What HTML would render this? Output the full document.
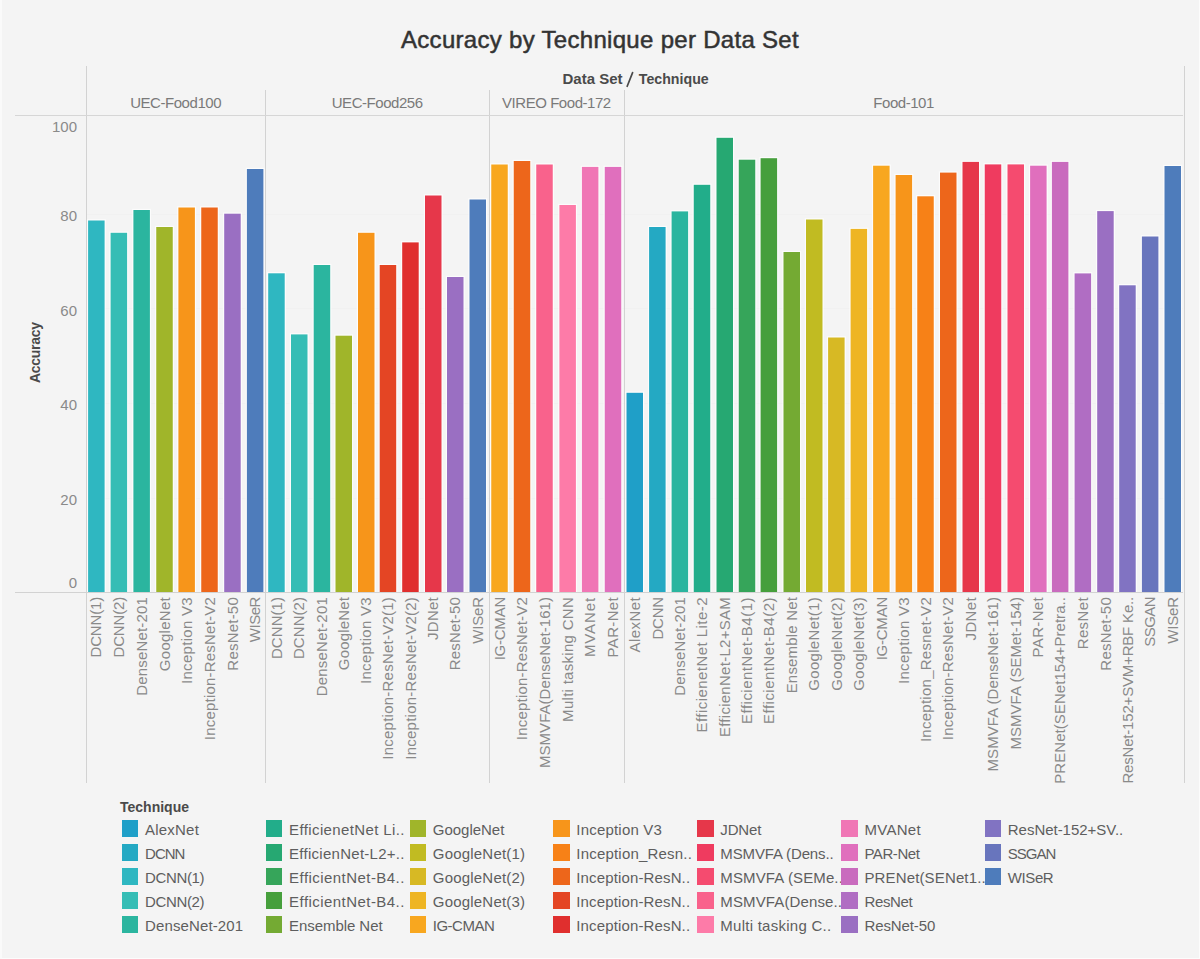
<!DOCTYPE html>
<html><head><meta charset="utf-8"><style>
html,body{margin:0;padding:0;}
body{width:1200px;height:959px;background:#f4f4f4;position:relative;overflow:hidden;font-family:"Liberation Sans",sans-serif;}
.frame{position:absolute;left:0;top:0;width:1200px;height:959px;box-sizing:border-box;border-left:2px solid #fafafa;border-right:1px solid #fcfcfc;border-bottom:1px solid #fcfcfc;}
svg{position:absolute;left:0;top:0;}
.title{position:absolute;left:0;width:1200px;top:26px;text-align:center;font-size:24px;color:#333;line-height:28px;-webkit-text-stroke:0.5px #333;letter-spacing:0.3px;white-space:nowrap;}
.dst2{position:absolute;top:70px;font-weight:bold;color:#4a4a4a;line-height:17px;white-space:nowrap;}
.dst{position:absolute;left:485px;width:300px;top:70px;text-align:center;font-size:15px;font-weight:bold;color:#4a4a4a;line-height:17px;white-space:pre;letter-spacing:-0.1px}
.hd{position:absolute;top:94px;width:300px;text-align:center;font-size:15px;color:#7a7a7a;line-height:17px;letter-spacing:-0.45px;white-space:nowrap;}
.yl{position:absolute;left:0;width:77px;text-align:right;font-size:15px;color:#8a8a8a;line-height:17px;}
.xl{position:absolute;top:597px;width:200px;height:17px;font-size:15px;line-height:17px;color:#8a8a8a;white-space:nowrap;text-align:right;transform-origin:0 0;transform:translateX(0) rotate(-90deg) translateX(-200px);letter-spacing:0.05px;}
.ytitle{position:absolute;left:5px;top:345px;width:60px;height:16px;font-size:14px;letter-spacing:-0.3px;font-weight:bold;color:#4a4a4a;line-height:16px;transform-origin:30px 8px;transform:rotate(-90deg);text-align:center;}
.lgt{position:absolute;left:120px;top:799px;font-size:14px;font-weight:bold;color:#4a4a4a;line-height:16px;}
.sw{position:absolute;width:16.5px;height:16.5px;}
.lt{position:absolute;font-size:15px;line-height:19px;color:#5e5e5e;white-space:nowrap;}
#wrap{position:absolute;left:0;top:0;width:1200px;height:959px;}
</style></head><body><div id="wrap">
<svg width="1200" height="959" viewBox="0 0 1200 959">
<line x1="86" y1="498.5" x2="1183" y2="498.5" stroke="#f1f1f1" stroke-width="1"/>
<line x1="86" y1="403.5" x2="1183" y2="403.5" stroke="#f1f1f1" stroke-width="1"/>
<line x1="86" y1="308.5" x2="1183" y2="308.5" stroke="#f1f1f1" stroke-width="1"/>
<line x1="86" y1="214.5" x2="1183" y2="214.5" stroke="#f1f1f1" stroke-width="1"/>
<rect x="86.90" y="219.30" width="18.90" height="372.70" fill="#ffffff" opacity="0.75"/>
<rect x="88.10" y="220.50" width="16.5" height="371.50" fill="#2fb7c1"/>
<rect x="109.40" y="231.60" width="18.90" height="360.40" fill="#ffffff" opacity="0.75"/>
<rect x="110.60" y="232.80" width="16.5" height="359.20" fill="#35bdb5"/>
<rect x="132.20" y="208.80" width="18.90" height="383.20" fill="#ffffff" opacity="0.75"/>
<rect x="133.40" y="210.00" width="16.5" height="382.00" fill="#2bb59f"/>
<rect x="155.05" y="225.80" width="18.90" height="366.20" fill="#ffffff" opacity="0.75"/>
<rect x="156.25" y="227.00" width="16.5" height="365.00" fill="#a0b52a"/>
<rect x="177.20" y="206.30" width="18.90" height="385.70" fill="#ffffff" opacity="0.75"/>
<rect x="178.40" y="207.50" width="16.5" height="384.50" fill="#f7951a"/>
<rect x="200.05" y="206.30" width="18.90" height="385.70" fill="#ffffff" opacity="0.75"/>
<rect x="201.25" y="207.50" width="16.5" height="384.50" fill="#ed661b"/>
<rect x="223.00" y="212.50" width="18.90" height="379.50" fill="#ffffff" opacity="0.75"/>
<rect x="224.20" y="213.70" width="16.5" height="378.30" fill="#9a6fc2"/>
<rect x="245.70" y="167.80" width="18.90" height="424.20" fill="#ffffff" opacity="0.75"/>
<rect x="246.90" y="169.00" width="16.5" height="423.00" fill="#4e7cbb"/>
<rect x="267.00" y="272.10" width="18.90" height="319.90" fill="#ffffff" opacity="0.75"/>
<rect x="268.20" y="273.30" width="16.5" height="318.70" fill="#2fb7c1"/>
<rect x="289.80" y="333.20" width="18.90" height="258.80" fill="#ffffff" opacity="0.75"/>
<rect x="291.00" y="334.40" width="16.5" height="257.60" fill="#35bdb5"/>
<rect x="312.50" y="263.80" width="18.90" height="328.20" fill="#ffffff" opacity="0.75"/>
<rect x="313.70" y="265.00" width="16.5" height="327.00" fill="#2bb59f"/>
<rect x="334.30" y="334.50" width="18.90" height="257.50" fill="#ffffff" opacity="0.75"/>
<rect x="335.50" y="335.70" width="16.5" height="256.30" fill="#a0b52a"/>
<rect x="356.80" y="231.60" width="18.90" height="360.40" fill="#ffffff" opacity="0.75"/>
<rect x="358.00" y="232.80" width="16.5" height="359.20" fill="#f7951a"/>
<rect x="378.50" y="263.80" width="18.90" height="328.20" fill="#ffffff" opacity="0.75"/>
<rect x="379.70" y="265.00" width="16.5" height="327.00" fill="#e44524"/>
<rect x="401.00" y="241.20" width="18.90" height="350.80" fill="#ffffff" opacity="0.75"/>
<rect x="402.20" y="242.40" width="16.5" height="349.60" fill="#e02f2e"/>
<rect x="423.80" y="194.30" width="18.90" height="397.70" fill="#ffffff" opacity="0.75"/>
<rect x="425.00" y="195.50" width="16.5" height="396.50" fill="#e6374a"/>
<rect x="445.80" y="275.80" width="18.90" height="316.20" fill="#ffffff" opacity="0.75"/>
<rect x="447.00" y="277.00" width="16.5" height="315.00" fill="#9a6fc2"/>
<rect x="468.30" y="198.30" width="18.90" height="393.70" fill="#ffffff" opacity="0.75"/>
<rect x="469.50" y="199.50" width="16.5" height="392.50" fill="#4e7cbb"/>
<rect x="490.05" y="163.30" width="18.90" height="428.70" fill="#ffffff" opacity="0.75"/>
<rect x="491.25" y="164.50" width="16.5" height="427.50" fill="#f8a71f"/>
<rect x="512.55" y="159.80" width="18.90" height="432.20" fill="#ffffff" opacity="0.75"/>
<rect x="513.75" y="161.00" width="16.5" height="431.00" fill="#ed661b"/>
<rect x="535.05" y="163.30" width="18.90" height="428.70" fill="#ffffff" opacity="0.75"/>
<rect x="536.25" y="164.50" width="16.5" height="427.50" fill="#f9628c"/>
<rect x="558.20" y="203.80" width="18.90" height="388.20" fill="#ffffff" opacity="0.75"/>
<rect x="559.40" y="205.00" width="16.5" height="387.00" fill="#fd7ba8"/>
<rect x="580.70" y="165.70" width="18.90" height="426.30" fill="#ffffff" opacity="0.75"/>
<rect x="581.90" y="166.90" width="16.5" height="425.10" fill="#f076b5"/>
<rect x="603.55" y="165.70" width="18.90" height="426.30" fill="#ffffff" opacity="0.75"/>
<rect x="604.75" y="166.90" width="16.5" height="425.10" fill="#e06fbd"/>
<rect x="625.30" y="391.60" width="18.90" height="200.40" fill="#ffffff" opacity="0.75"/>
<rect x="626.50" y="392.80" width="16.5" height="199.20" fill="#1f9fc8"/>
<rect x="647.90" y="225.80" width="18.90" height="366.20" fill="#ffffff" opacity="0.75"/>
<rect x="649.10" y="227.00" width="16.5" height="365.00" fill="#24a9c3"/>
<rect x="670.40" y="210.20" width="18.90" height="381.80" fill="#ffffff" opacity="0.75"/>
<rect x="671.60" y="211.40" width="16.5" height="380.60" fill="#2bb59f"/>
<rect x="692.55" y="183.60" width="18.90" height="408.40" fill="#ffffff" opacity="0.75"/>
<rect x="693.75" y="184.80" width="16.5" height="407.20" fill="#22ad8a"/>
<rect x="715.30" y="136.60" width="18.90" height="455.40" fill="#ffffff" opacity="0.75"/>
<rect x="716.50" y="137.80" width="16.5" height="454.20" fill="#26a872"/>
<rect x="737.55" y="158.50" width="18.90" height="433.50" fill="#ffffff" opacity="0.75"/>
<rect x="738.75" y="159.70" width="16.5" height="432.30" fill="#36a55a"/>
<rect x="759.40" y="157.00" width="18.90" height="435.00" fill="#ffffff" opacity="0.75"/>
<rect x="760.60" y="158.20" width="16.5" height="433.80" fill="#469f3c"/>
<rect x="782.30" y="250.80" width="18.90" height="341.20" fill="#ffffff" opacity="0.75"/>
<rect x="783.50" y="252.00" width="16.5" height="340.00" fill="#74aa33"/>
<rect x="804.80" y="218.30" width="18.90" height="373.70" fill="#ffffff" opacity="0.75"/>
<rect x="806.00" y="219.50" width="16.5" height="372.50" fill="#c1bb22"/>
<rect x="826.90" y="336.30" width="18.90" height="255.70" fill="#ffffff" opacity="0.75"/>
<rect x="828.10" y="337.50" width="16.5" height="254.50" fill="#d7b924"/>
<rect x="849.40" y="227.70" width="18.90" height="364.30" fill="#ffffff" opacity="0.75"/>
<rect x="850.60" y="228.90" width="16.5" height="363.10" fill="#eeb523"/>
<rect x="871.90" y="164.50" width="18.90" height="427.50" fill="#ffffff" opacity="0.75"/>
<rect x="873.10" y="165.70" width="16.5" height="426.30" fill="#f8a71f"/>
<rect x="894.40" y="173.80" width="18.90" height="418.20" fill="#ffffff" opacity="0.75"/>
<rect x="895.60" y="175.00" width="16.5" height="417.00" fill="#f7951a"/>
<rect x="916.05" y="195.10" width="18.90" height="396.90" fill="#ffffff" opacity="0.75"/>
<rect x="917.25" y="196.30" width="16.5" height="395.70" fill="#f78117"/>
<rect x="938.80" y="171.40" width="18.90" height="420.60" fill="#ffffff" opacity="0.75"/>
<rect x="940.00" y="172.60" width="16.5" height="419.40" fill="#ed661b"/>
<rect x="961.30" y="160.70" width="18.90" height="431.30" fill="#ffffff" opacity="0.75"/>
<rect x="962.50" y="161.90" width="16.5" height="430.10" fill="#e6374a"/>
<rect x="983.55" y="163.20" width="18.90" height="428.80" fill="#ffffff" opacity="0.75"/>
<rect x="984.75" y="164.40" width="16.5" height="427.60" fill="#ef3b5f"/>
<rect x="1006.30" y="163.20" width="18.90" height="428.80" fill="#ffffff" opacity="0.75"/>
<rect x="1007.50" y="164.40" width="16.5" height="427.60" fill="#f54b6f"/>
<rect x="1028.90" y="164.50" width="18.90" height="427.50" fill="#ffffff" opacity="0.75"/>
<rect x="1030.10" y="165.70" width="16.5" height="426.30" fill="#e06fbd"/>
<rect x="1050.70" y="160.70" width="18.90" height="431.30" fill="#ffffff" opacity="0.75"/>
<rect x="1051.90" y="161.90" width="16.5" height="430.10" fill="#c96bbe"/>
<rect x="1073.40" y="272.20" width="18.90" height="319.80" fill="#ffffff" opacity="0.75"/>
<rect x="1074.60" y="273.40" width="16.5" height="318.60" fill="#b06dc3"/>
<rect x="1096.00" y="209.90" width="18.90" height="382.10" fill="#ffffff" opacity="0.75"/>
<rect x="1097.20" y="211.10" width="16.5" height="380.90" fill="#9a6fc2"/>
<rect x="1118.00" y="284.10" width="18.90" height="307.90" fill="#ffffff" opacity="0.75"/>
<rect x="1119.20" y="285.30" width="16.5" height="306.70" fill="#8173c2"/>
<rect x="1140.70" y="235.30" width="18.90" height="356.70" fill="#ffffff" opacity="0.75"/>
<rect x="1141.90" y="236.50" width="16.5" height="355.50" fill="#6875bd"/>
<rect x="1163.30" y="164.80" width="18.90" height="427.20" fill="#ffffff" opacity="0.75"/>
<rect x="1164.50" y="166.00" width="16.5" height="426.00" fill="#4e7cbb"/>
<line x1="86.5" y1="66" x2="86.5" y2="783" stroke="#d2d2d2" stroke-width="1"/>
<line x1="265.5" y1="90" x2="265.5" y2="783" stroke="#d2d2d2" stroke-width="1"/>
<line x1="489.5" y1="90" x2="489.5" y2="783" stroke="#d2d2d2" stroke-width="1"/>
<line x1="624.5" y1="90" x2="624.5" y2="783" stroke="#d2d2d2" stroke-width="1"/>
<line x1="1184.5" y1="66" x2="1184.5" y2="783" stroke="#d2d2d2" stroke-width="1"/>
<line x1="627.2" y1="86.3" x2="632.6" y2="72.6" stroke="#4a4a4a" stroke-width="1.7" stroke-linecap="round"/>
<line x1="15" y1="115.5" x2="1183" y2="115.5" stroke="#d6d6d6" stroke-width="1.2"/>
<line x1="15" y1="592.5" x2="1183" y2="592.5" stroke="#d2d2d2" stroke-width="1.2"/>
</svg>
<div class="title">Accuracy by Technique per Data Set</div>
<div class="dst2" style="left:562.5px;font-size:15px">Data Set</div><div class="dst2" style="left:638.8px;font-size:14.2px;top:71px">Technique</div>
<div class="ytitle">Accuracy</div>
<div class="yl" style="top:118.0px">100</div>
<div class="yl" style="top:207.0px">80</div>
<div class="yl" style="top:301.5px">60</div>
<div class="yl" style="top:396.2px">40</div>
<div class="yl" style="top:491.0px">20</div>
<div class="yl" style="top:574.2px">0</div>
<div class="hd" style="left:25.6px">UEC-Food100</div>
<div class="hd" style="left:227.2px">UEC-Food256</div>
<div class="hd" style="left:406.4px">VIREO Food-172</div>
<div class="hd" style="left:753.6px">Food-101</div>
<div class="xl" style="left:87.4px;letter-spacing:-0.164px">DCNN(1)</div>
<div class="xl" style="left:109.9px;letter-spacing:-0.164px">DCNN(2)</div>
<div class="xl" style="left:132.8px;letter-spacing:0.175px">DenseNet-201</div>
<div class="xl" style="left:155.6px;letter-spacing:0.272px">GoogleNet</div>
<div class="xl" style="left:177.8px;letter-spacing:0.300px">Inception V3</div>
<div class="xl" style="left:200.6px;letter-spacing:0.208px">Inception-ResNet-V2</div>
<div class="xl" style="left:223.5px;letter-spacing:0.217px">ResNet-50</div>
<div class="xl" style="left:246.2px;letter-spacing:-0.450px">WISeR</div>
<div class="xl" style="left:267.6px;letter-spacing:0.050px">DCNN(1)</div>
<div class="xl" style="left:290.4px;letter-spacing:0.050px">DCNN(2)</div>
<div class="xl" style="left:313.1px;letter-spacing:0.217px">DenseNet-201</div>
<div class="xl" style="left:334.9px;letter-spacing:0.161px">GoogleNet</div>
<div class="xl" style="left:357.4px;letter-spacing:0.300px">Inception V3</div>
<div class="xl" style="left:379.1px;letter-spacing:0.232px">Inception-ResNet-V2(1)</div>
<div class="xl" style="left:401.6px;letter-spacing:0.232px">Inception-ResNet-V2(2)</div>
<div class="xl" style="left:424.4px;letter-spacing:0.250px">JDNet</div>
<div class="xl" style="left:446.4px;letter-spacing:0.161px">ResNet-50</div>
<div class="xl" style="left:468.9px;letter-spacing:-0.150px">WISeR</div>
<div class="xl" style="left:490.6px;letter-spacing:-0.236px">IG-CMAN</div>
<div class="xl" style="left:513.1px;letter-spacing:0.208px">Inception-ResNet-V2</div>
<div class="xl" style="left:535.6px;letter-spacing:0.050px">MSMVFA(DenseNet-161)</div>
<div class="xl" style="left:558.8px;letter-spacing:0.285px">Multi tasking CNN</div>
<div class="xl" style="left:581.2px;letter-spacing:0.883px">MVANet</div>
<div class="xl" style="left:604.1px;letter-spacing:0.336px">PAR-Net</div>
<div class="xl" style="left:625.9px;letter-spacing:0.407px">AlexNet</div>
<div class="xl" style="left:648.5px;letter-spacing:-0.200px">DCNN</div>
<div class="xl" style="left:671.0px;letter-spacing:0.175px">DenseNet-201</div>
<div class="xl" style="left:693.1px;letter-spacing:0.450px">EfficienetNet Lite-2</div>
<div class="xl" style="left:715.9px;letter-spacing:0.272px">EfficienNet-L2+SAM</div>
<div class="xl" style="left:738.1px;letter-spacing:0.494px">EfficientNet-B4(1)</div>
<div class="xl" style="left:760.0px;letter-spacing:0.494px">EfficientNet-B4(2)</div>
<div class="xl" style="left:782.9px;letter-spacing:0.175px">Ensemble Net</div>
<div class="xl" style="left:805.4px;letter-spacing:0.300px">GoogleNet(1)</div>
<div class="xl" style="left:827.5px;letter-spacing:0.300px">GoogleNet(2)</div>
<div class="xl" style="left:850.0px;letter-spacing:0.300px">GoogleNet(3)</div>
<div class="xl" style="left:872.5px;letter-spacing:-0.236px">IG-CMAN</div>
<div class="xl" style="left:895.0px;letter-spacing:0.300px">Inception V3</div>
<div class="xl" style="left:916.6px;letter-spacing:0.261px">Inception_Resnet-V2</div>
<div class="xl" style="left:939.4px;letter-spacing:0.208px">Inception-ResNet-V2</div>
<div class="xl" style="left:961.9px;letter-spacing:0.350px">JDNet</div>
<div class="xl" style="left:984.1px;letter-spacing:0.050px">MSMVFA (DenseNet-161)</div>
<div class="xl" style="left:1006.9px;letter-spacing:0.050px">MSMVFA (SEMet-154)</div>
<div class="xl" style="left:1029.4px;letter-spacing:0.336px">PAR-Net</div>
<div class="xl" style="left:1051.2px;letter-spacing:0.050px">PRENet(SENet154+Pretra..</div>
<div class="xl" style="left:1073.9px;letter-spacing:0.383px">ResNet</div>
<div class="xl" style="left:1096.5px;letter-spacing:0.217px">ResNet-50</div>
<div class="xl" style="left:1118.5px;letter-spacing:-0.189px">ResNet-152+SVM+RBF Ke..</div>
<div class="xl" style="left:1141.2px;letter-spacing:-0.550px">SSGAN</div>
<div class="xl" style="left:1163.8px;letter-spacing:-0.150px">WISeR</div>
<div class="lgt">Technique</div>
<div class="sw" style="left:121.8px;top:820.0px;background:#1f9fc8"></div>
<div class="lt" style="left:145.1px;top:819.5px;letter-spacing:0.200px">AlexNet</div>
<div class="sw" style="left:121.8px;top:844.2px;background:#24a9c3"></div>
<div class="lt" style="left:145.1px;top:843.8px;letter-spacing:-1.050px">DCNN</div>
<div class="sw" style="left:121.8px;top:868.0px;background:#2fb7c1"></div>
<div class="lt" style="left:145.1px;top:867.5px;letter-spacing:-0.371px">DCNN(1)</div>
<div class="sw" style="left:121.8px;top:892.0px;background:#35bdb5"></div>
<div class="lt" style="left:145.1px;top:891.5px;letter-spacing:-0.371px">DCNN(2)</div>
<div class="sw" style="left:121.8px;top:916.2px;background:#2bb59f"></div>
<div class="lt" style="left:145.1px;top:915.8px;letter-spacing:0.117px">DenseNet-201</div>
<div class="sw" style="left:265.8px;top:820.0px;background:#22ad8a"></div>
<div class="lt" style="left:289.1px;top:819.5px;letter-spacing:0.378px">EfficienetNet Li..</div>
<div class="sw" style="left:265.8px;top:844.2px;background:#26a872"></div>
<div class="lt" style="left:289.1px;top:843.8px;letter-spacing:0.271px">EfficienNet-L2+..</div>
<div class="sw" style="left:265.8px;top:868.0px;background:#36a55a"></div>
<div class="lt" style="left:289.1px;top:867.5px;letter-spacing:0.447px">EfficientNet-B4..</div>
<div class="sw" style="left:265.8px;top:892.0px;background:#469f3c"></div>
<div class="lt" style="left:289.1px;top:891.5px;letter-spacing:0.447px">EfficientNet-B4..</div>
<div class="sw" style="left:265.8px;top:916.2px;background:#74aa33"></div>
<div class="lt" style="left:289.1px;top:915.8px;letter-spacing:-0.067px">Ensemble Net</div>
<div class="sw" style="left:409.5px;top:820.0px;background:#a0b52a"></div>
<div class="lt" style="left:432.8px;top:819.5px;letter-spacing:-0.022px">GoogleNet</div>
<div class="sw" style="left:409.5px;top:844.2px;background:#c1bb22"></div>
<div class="lt" style="left:432.8px;top:843.8px;letter-spacing:0.200px">GoogleNet(1)</div>
<div class="sw" style="left:409.5px;top:868.0px;background:#d7b924"></div>
<div class="lt" style="left:432.8px;top:867.5px;letter-spacing:0.200px">GoogleNet(2)</div>
<div class="sw" style="left:409.5px;top:892.0px;background:#eeb523"></div>
<div class="lt" style="left:432.8px;top:891.5px;letter-spacing:0.200px">GoogleNet(3)</div>
<div class="sw" style="left:409.5px;top:916.2px;background:#f8a71f"></div>
<div class="lt" style="left:432.8px;top:915.8px;letter-spacing:-0.514px">IG-CMAN</div>
<div class="sw" style="left:553.0px;top:820.0px;background:#f7951a"></div>
<div class="lt" style="left:576.3px;top:819.5px;letter-spacing:0.200px">Inception V3</div>
<div class="sw" style="left:553.0px;top:844.2px;background:#f78117"></div>
<div class="lt" style="left:576.3px;top:843.8px;letter-spacing:0.200px">Inception_Resn..</div>
<div class="sw" style="left:553.0px;top:868.0px;background:#ed661b"></div>
<div class="lt" style="left:576.3px;top:867.5px;letter-spacing:0.138px">Inception-ResN..</div>
<div class="sw" style="left:553.0px;top:892.0px;background:#e44524"></div>
<div class="lt" style="left:576.3px;top:891.5px;letter-spacing:0.138px">Inception-ResN..</div>
<div class="sw" style="left:553.0px;top:916.2px;background:#e02f2e"></div>
<div class="lt" style="left:576.3px;top:915.8px;letter-spacing:0.138px">Inception-ResN..</div>
<div class="sw" style="left:697.0px;top:820.0px;background:#e6374a"></div>
<div class="lt" style="left:720.3px;top:819.5px;letter-spacing:-0.160px">JDNet</div>
<div class="sw" style="left:697.0px;top:844.2px;background:#ef3b5f"></div>
<div class="lt" style="left:720.3px;top:843.8px;letter-spacing:-0.129px">MSMVFA (Dens..</div>
<div class="sw" style="left:697.0px;top:868.0px;background:#f54b6f"></div>
<div class="lt" style="left:720.3px;top:867.5px;letter-spacing:0.129px">MSMVFA (SEMe..</div>
<div class="sw" style="left:697.0px;top:892.0px;background:#f9628c"></div>
<div class="lt" style="left:720.3px;top:891.5px;letter-spacing:0.129px">MSMVFA(Dense..</div>
<div class="sw" style="left:697.0px;top:916.2px;background:#fd7ba8"></div>
<div class="lt" style="left:720.3px;top:915.8px;letter-spacing:0.259px">Multi tasking C..</div>
<div class="sw" style="left:841.1px;top:820.0px;background:#f076b5"></div>
<div class="lt" style="left:864.4px;top:819.5px;letter-spacing:0.300px">MVANet</div>
<div class="sw" style="left:841.1px;top:844.2px;background:#e06fbd"></div>
<div class="lt" style="left:864.4px;top:843.8px;letter-spacing:-0.429px">PAR-Net</div>
<div class="sw" style="left:841.1px;top:868.0px;background:#c96bbe"></div>
<div class="lt" style="left:864.4px;top:867.5px;letter-spacing:0.147px">PRENet(SENet1..</div>
<div class="sw" style="left:841.1px;top:892.0px;background:#b06dc3"></div>
<div class="lt" style="left:864.4px;top:891.5px;letter-spacing:-0.333px">ResNet</div>
<div class="sw" style="left:841.1px;top:916.2px;background:#9a6fc2"></div>
<div class="lt" style="left:864.4px;top:915.8px;letter-spacing:-0.089px">ResNet-50</div>
<div class="sw" style="left:984.5px;top:820.0px;background:#8173c2"></div>
<div class="lt" style="left:1007.8px;top:819.5px;letter-spacing:-0.027px">ResNet-152+SV..</div>
<div class="sw" style="left:984.5px;top:844.2px;background:#6875bd"></div>
<div class="lt" style="left:1007.8px;top:843.8px;letter-spacing:-1.000px">SSGAN</div>
<div class="sw" style="left:984.5px;top:868.0px;background:#4e7cbb"></div>
<div class="lt" style="left:1007.8px;top:867.5px;letter-spacing:-0.400px">WISeR</div>
<div class="frame"></div>
</div></body></html>
